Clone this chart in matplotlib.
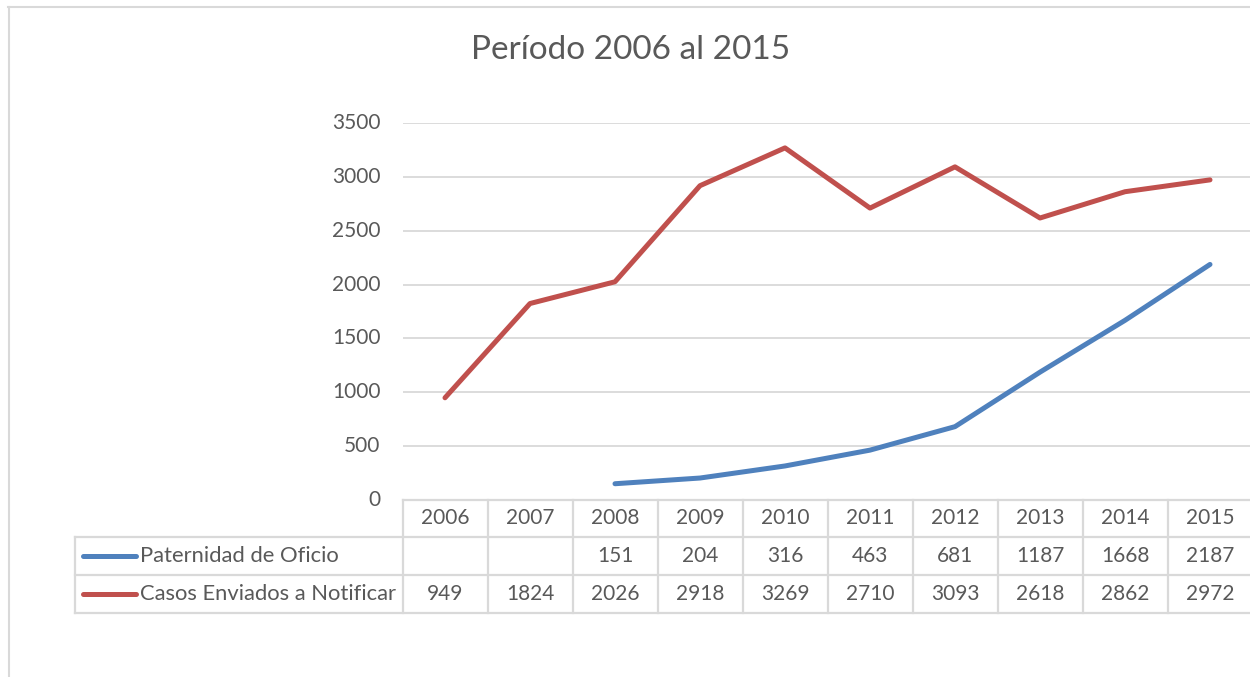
import numpy as np
import matplotlib
matplotlib.use("Agg")
import matplotlib.pyplot as plt
from matplotlib.lines import Line2D
from matplotlib.transforms import blended_transform_factory

plt.rcParams['font.family'] = ['Lato', 'DejaVu Sans']

years = ["2006", "2007", "2008", "2009", "2010", "2011", "2012", "2013", "2014", "2015"]
paternidad = [None, None, 151, 204, 316, 463, 681, 1187, 1668, 2187]
casos = [949, 1824, 2026, 2918, 3269, 2710, 3093, 2618, 2862, 2972]
series_names = ["Paternidad de Oficio", "Casos Enviados a Notificar"]
series_colors = ["#4F81BD", "#C0504D"]
title = "Período 2006 al 2015"
yticks = [0, 500, 1000, 1500, 2000, 2500, 3000, 3500]

W, H = 1250, 677
fig = plt.figure(figsize=(W / 100, H / 100), dpi=100)

def fx(px):
    return px / W

def fy(py):
    return 1 - py / H

text_color = "#595959"
grid_color = "#D9D9D9"
fs = 15

ax_left, ax_right, ax_top, ax_bottom = 402.5, 1252.5, 123, 500
ax = fig.add_axes([fx(ax_left), fy(ax_bottom), fx(ax_right - ax_left), (ax_bottom - ax_top) / H])
x = np.arange(len(years))
pvals = np.array([np.nan if v is None else v for v in paternidad], dtype=float)
cvals = np.array(casos, dtype=float)
ax.plot(x, pvals, color=series_colors[0], lw=3.6, solid_capstyle='round', solid_joinstyle='round', zorder=3)
ax.plot(x, cvals, color=series_colors[1], lw=3.6, solid_capstyle='round', solid_joinstyle='round', zorder=3)
ax.set_xlim(-0.5, len(years) - 0.5)
ax.set_ylim(0, 3500)
ax.set_yticks(yticks)
ax.set_yticklabels([str(t) for t in yticks], fontsize=fs, color=text_color)
ax.tick_params(axis='y', length=0, pad=16)
ax.set_xticks([])
for s in ax.spines.values():
    s.set_visible(False)
ax.yaxis.grid(True, color=grid_color, lw=1.3)
ax.set_axisbelow(True)
for lab in ax.get_yticklabels():
    lab.set_verticalalignment('center')

# Title
fig.text(fx(631), fy(50), title, ha='center', va='center', fontsize=24, color=text_color)

# Outer chart border
fig.add_artist(Line2D([fx(8), fx(1250)], [fy(7), fy(7)], color=grid_color, lw=1.5))
fig.add_artist(Line2D([fx(9), fx(9)], [fy(7), fy(677)], color=grid_color, lw=1.5))

# Data table
row_edges = [500, 536.5, 574.5, 613]
leg_left = 75
tl = dict(color=grid_color, lw=1.6)
fig.add_artist(Line2D([fx(ax_left), fx(ax_right)], [fy(row_edges[0])] * 2, **tl))
for ry in row_edges[1:]:
    fig.add_artist(Line2D([fx(leg_left), fx(ax_right)], [fy(ry)] * 2, **tl))
fig.add_artist(Line2D([fx(leg_left)] * 2, [fy(row_edges[1]), fy(row_edges[3])], **tl))
colw = (ax_right - ax_left) / len(years)
for i in range(len(years) + 1):
    vx = ax_left + i * colw
    fig.add_artist(Line2D([fx(vx)] * 2, [fy(row_edges[0]), fy(row_edges[3])], **tl))

trans = blended_transform_factory(ax.transData, fig.transFigure)
centers = [(row_edges[k] + row_edges[k + 1]) / 2 for k in range(3)]
for i, yr in enumerate(years):
    fig.text(i, fy(centers[0]), yr, transform=trans, ha='center', va='center', fontsize=fs, color=text_color)
    if paternidad[i] is not None:
        fig.text(i, fy(centers[1]), str(paternidad[i]), transform=trans, ha='center', va='center', fontsize=fs, color=text_color)
    fig.text(i, fy(centers[2]), str(casos[i]), transform=trans, ha='center', va='center', fontsize=fs, color=text_color)

for k, (name, col) in enumerate(zip(series_names, series_colors)):
    cy = fy(centers[k + 1])
    fig.add_artist(Line2D([fx(83), fx(136)], [cy, cy], color=col, lw=3.6, solid_capstyle='round'))
    fig.text(fx(140), cy, name, ha='left', va='center', fontsize=15.8, color=text_color)

fig.savefig("out.png", dpi=100)
